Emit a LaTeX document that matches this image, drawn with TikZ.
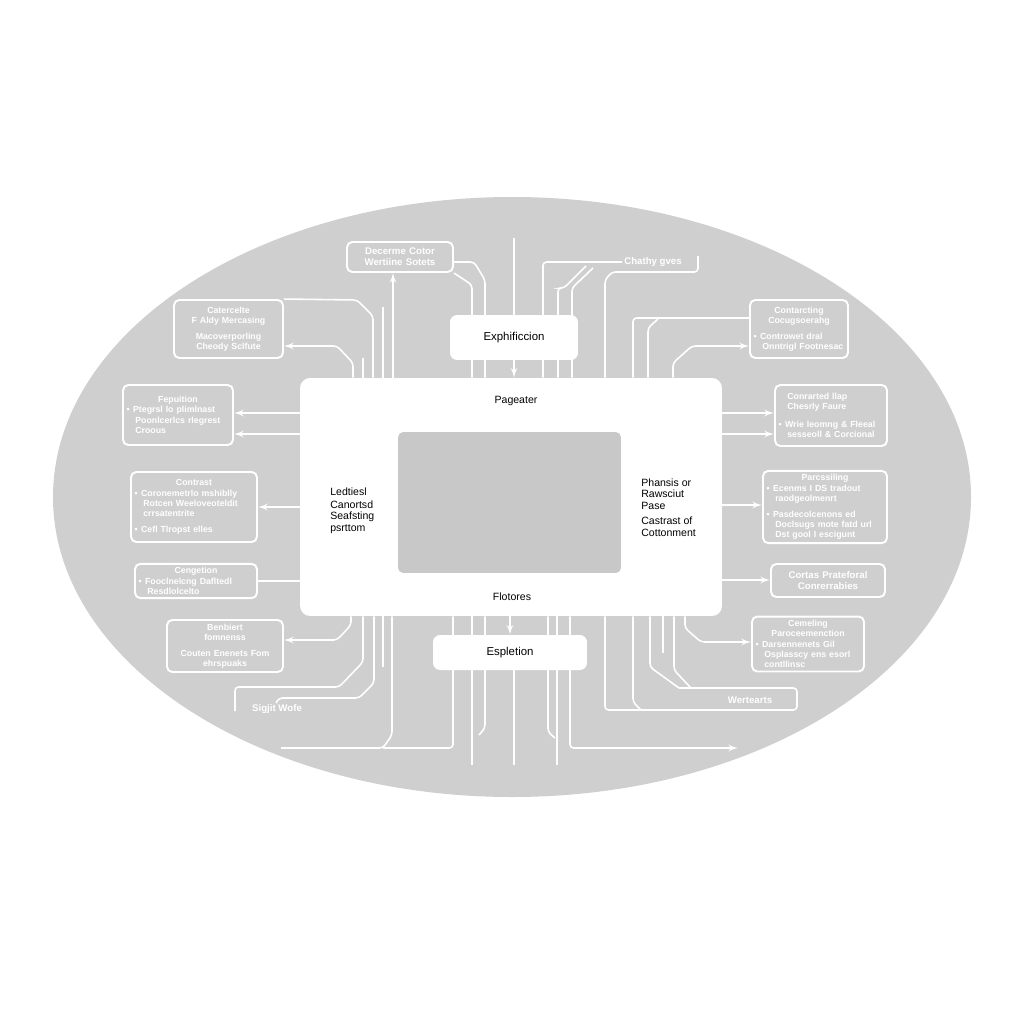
\documentclass[tikz,border=0pt]{standalone}
\usepackage{fontspec}
\setmainfont{Liberation Sans}
\usetikzlibrary{arrows}
\usetikzlibrary{backgrounds}
\definecolor{ellgray}{HTML}{CFCFCF}
\definecolor{scrgray}{HTML}{C8C8C8}
\newcommand{\boxtitle}[1]{{\centering #1\par}}
\newcommand{\bul}{\textbullet\hspace{2pt}}
\newcommand{\ind}{\hspace*{5pt}}

\tikzset{
  wire/.style={draw=white, line width=0.9pt, rounded corners=2pt},
  infobox/.style={draw=white, line width=1.1pt, rounded corners=3pt, fill=ellgray, text=white,
    font=\fontsize{5}{5.9}\selectfont\bfseries, align=left, inner sep=2pt},
  whitebox/.style={fill=white, rounded corners=4pt, inner sep=0pt, text=black,
    font=\fontsize{6.5}{8}\selectfont},
  boxlabel/.style={text=white, font=\fontsize{5.5}{7}\selectfont\bfseries, inner sep=1pt},
  centretext/.style={text=black, font=\fontsize{6}{6.6}\selectfont, align=left, anchor=west, inner sep=0pt}
}

\begin{document}
\begin{tikzpicture}[x=0.02cm, y=-0.02cm, >=latex']
\useasboundingbox (0,0) rectangle (1024,1024);

% centre
\node[fill=white, rounded corners=0.2cm, minimum width=8.44cm, minimum height=4.76cm, inner sep=0pt] (cen) at (511,497) {};
\node[fill=scrgray, rounded corners=3pt, minimum width=4.46cm, minimum height=2.82cm, inner sep=0pt] (screen) at (509.5,502.5) {};
\node[centretext, anchor=center] (ctop) at (516,401) {Pageater};
\node[centretext, anchor=center] (cbot) at (512,597) {Flotores};
\node[centretext] (cl1) at (330,492) {Ledtiesl};
\node[centretext] (cl2) at (330,517) {Canortsd\\Seafsting\\psrttom};
\node[centretext] (cr1) at (641,494) {Phansis or\\Rawsciut\\Pase};
\node[centretext] (cr2) at (641,527) {Castrast of\\Cottonment};

\node[whitebox, minimum width=2.56cm, minimum height=0.9cm] (expl) at (514,337.5) {Exphificcion};
\node[whitebox, minimum width=3.08cm, minimum height=0.7cm] (espl) at (510,652.5) {Espletion};

% left boxes
\node[infobox, align=center, text width=1.98cm, minimum height=0.6cm, font=\fontsize{5.5}{6.4}\selectfont\bfseries] (decer) at (400,257)
  {Decerme Cotor\\Wertiine Sotets};
\node[infobox, align=center, text width=2.04cm, minimum height=1.16cm] (cater) at (228.5,329)
  {Catercelte\\F Aldy Mercasing\\[3pt]Macoverporling\\Cheody Sclfute};
\node[infobox, text width=2.06cm, minimum height=1.2cm] (fepu) at (178,415)
  {\boxtitle{Fepuition}\bul Ptegrsl lo plimlnast\\\ind Poonlcerlcs rlegrest\\\ind Croous\\[6pt]};
\node[infobox, text width=2.38cm, minimum height=1.4cm] (contrast) at (194,507)
  {\boxtitle{Contrast}\bul Coronemetrlo mshiblly\\\ind Rotcen Weeloveoteldit\\\ind crrsatentrite\\[3pt]\bul Cefl Tlropst elles\\[4pt]};
\node[infobox, text width=2.3cm, minimum height=0.68cm] (cenget) at (196,581)
  {\boxtitle{Cengetion}\bul Fooclnelcng Dafltedl\\\ind Resdlolcelto};
\node[infobox, align=center, text width=2.18cm, minimum height=1.04cm] (benbi) at (225,646)
  {Benbiert\\fomnenss\\[3pt]Couten Enenets Fom\\ehrspuaks};

% right boxes
\node[infobox, text width=1.82cm, minimum height=1.16cm] (contarc) at (799,329)
  {\boxtitle{Contarcting}\boxtitle{Cocugsoerahg}\vspace{3pt}\bul Controwet dral\\\ind Onntrigl Footnesac};
\node[infobox, text width=2.1cm, minimum height=1.22cm] (conrart) at (831,415.5)
  {\ind Conrarted llap\\\ind Chesrly Faure\\[4pt]\bul Wrie leomng \& Fleeal\\\ind sesseoll \& Corcional};
\node[infobox, text width=2.34cm, minimum height=1.4cm] (parcs) at (825,507)
  {\boxtitle{Parcssiling}\bul Ecenms I DS tradout\\\ind raodgeolmenrt\\[3pt]\bul Pasdecolcenons ed\\\ind Doclsugs mote fatd url\\\ind Dst gool I escigunt};
\node[infobox, align=center, text width=2.14cm, minimum height=0.66cm, font=\fontsize{5.5}{6.4}\selectfont\bfseries] (cortas) at (828,580.5)
  {Cortas Prateforal\\Conrerrabies};
\node[infobox, text width=2.1cm, minimum height=1.08cm] (cemel) at (808,644)
  {\boxtitle{Cemeling}\boxtitle{Paroceemenction}\bul Darsennenets Gil\\\ind Osplasscy ens esorl\\\ind contllinsc};

% labels
\node[boxlabel] (chat) at (653,262) {Chathy gves};
\node[boxlabel] (slab) at (277,709) {Sigjit Wofe};
\node[boxlabel] (wlab) at (750,700) {Wertearts};

% free ends
\coordinate (t0) at (514,238);
\coordinate (t1) at (383,307);
\coordinate (t2) at (363,358);
\coordinate (t3) at (698,256);
\coordinate (t4) at (586,266);
\coordinate (t5) at (593,268);
\coordinate (t6) at (658,319);
\coordinate (s1) at (235,711);
\coordinate (s2) at (276,703);
\coordinate (s3) at (383,667);
\coordinate (s4) at (281,748);
\coordinate (s5) at (472,765);
\coordinate (s6) at (479,735);
\coordinate (s7) at (514,765);
\coordinate (s8) at (555,738);
\coordinate (s9) at (557,765);
\coordinate (s10) at (738,748);
\coordinate (s11) at (679,688);
\coordinate (s12) at (641,710);
\coordinate (s14) at (663,653);
\coordinate (s15) at (691,688);

\begin{scope}[on background layer]
\fill[white] (0,0) rectangle (1024,1024);
\fill[ellgray] (512,497) ellipse [x radius=459, y radius=300];

% top
\draw[wire] (cater.north east) -- (357,300) -- (373,316) -- (cen.north -| 373,0);
\draw[wire] (t1) -- (cen.north -| t1);
\draw[wire, ->] (cen.north -| 353,0) -- (353,363) -- (337,346) -- (cater.east |- 0,346);
\draw[wire] (t2) -- (cen.north -| t2);
\draw[wire, ->] (cen.north -| 393,0) -- (decer.south -| 393,0);
\draw[wire] (decer.east |- 0,262) -- (474,262) -- (485,280) -- (cen.north -| 485,0);
\draw[wire] (decer.south east) -- (472,285) -- (cen.north -| 472,0);
\draw[wire] (t0) -- (expl.north -| t0);
\draw[wire, ->] (expl.south) -- (expl.south |- cen.north);
\draw[wire] (chat.west) -- (543,262) -- (cen.north -| 543,0);
\draw[wire] (t3) -- (698,272) -- (612,272) -- (605,280) -- (cen.north -| 605,0);
\draw[wire] (t4) -- (564,288) -- (558,288) -- (cen.north -| 558,0);
\draw[wire] (t5) -- (572,288) -- (cen.north -| 572,0);
\draw[wire] (contarc.west |- 0,318) -- (633,318) -- (cen.north -| 633,0);
\draw[wire] (t6) -- (648,328) -- (cen.north -| 648,0);
\draw[wire, ->] (cen.north -| 673,0) -- (673,363) -- (692,346) -- (contarc.west |- 0,346);

% sides
\draw[wire, ->] (cen.west |- 0,413) -- (fepu.east |- 0,413);
\draw[wire, ->] (cen.west |- 0,434) -- (fepu.east |- 0,434);
\draw[wire, ->] (cen.west |- 0,507) -- (contrast.east |- 0,507);
\draw[wire] (cen.west |- 0,581) -- (cenget.east |- 0,581);
\draw[wire, ->] (cen.east |- 0,413) -- (conrart.west |- 0,413);
\draw[wire, ->] (cen.east |- 0,434) -- (conrart.west |- 0,434);
\draw[wire, ->] (cen.east |- 0,505) -- (parcs.west |- 0,505);
\draw[wire, ->] (cen.east |- 0,580) -- (cortas.west |- 0,580);

% bottom
\draw[wire, ->] (cen.south -| 351,0) -- (351,625) -- (337,640) -- (benbi.east |- 0,640);
\draw[wire] (cen.south -| 363,0) -- (363,662) -- (339,687) -- (235,687) -- (s1);
\draw[wire] (cen.south -| 374,0) -- (374,683) -- (359,698) -- (279,698) -- (s2);
\draw[wire] (cen.south -| s3) -- (s3);
\draw[wire] (cen.south -| 392,0) -- (392,735) -- (383,748) -- (s4);
\draw[wire] (cen.south -| 453,0) -- (453,748) -- (383,748);
\draw[wire] (cen.south -| s5) -- (s5);
\draw[wire] (cen.south -| 485,0) -- (485,728) -- (s6);
\draw[wire, ->] (cen.south -| espl.north) -- (espl.north);
\draw[wire] (espl.south -| s7) -- (s7);
\draw[wire] (cen.south -| 548,0) -- (548,732) -- (s8);
\draw[wire] (cen.south -| s9) -- (s9);
\draw[wire, ->] (cen.south -| 570,0) -- (570,748) -- (s10);
\draw[wire] (cen.south -| 605,0) -- (605,710) -- (797,710) -- (797,688) -- (s11);
\draw[wire] (cen.south -| 633,0) -- (633,702) -- (s12);
\draw[wire] (cen.south -| 650,0) -- (650,667) -- (s11);
\draw[wire] (cen.south -| s14) -- (s14);
\draw[wire] (cen.south -| 674,0) -- (674,670) -- (s15);
\draw[wire, ->] (cen.south -| 685,0) -- (685,628) -- (701,642) -- (cemel.west |- 0,642);
\end{scope}
\end{tikzpicture}
\end{document}
